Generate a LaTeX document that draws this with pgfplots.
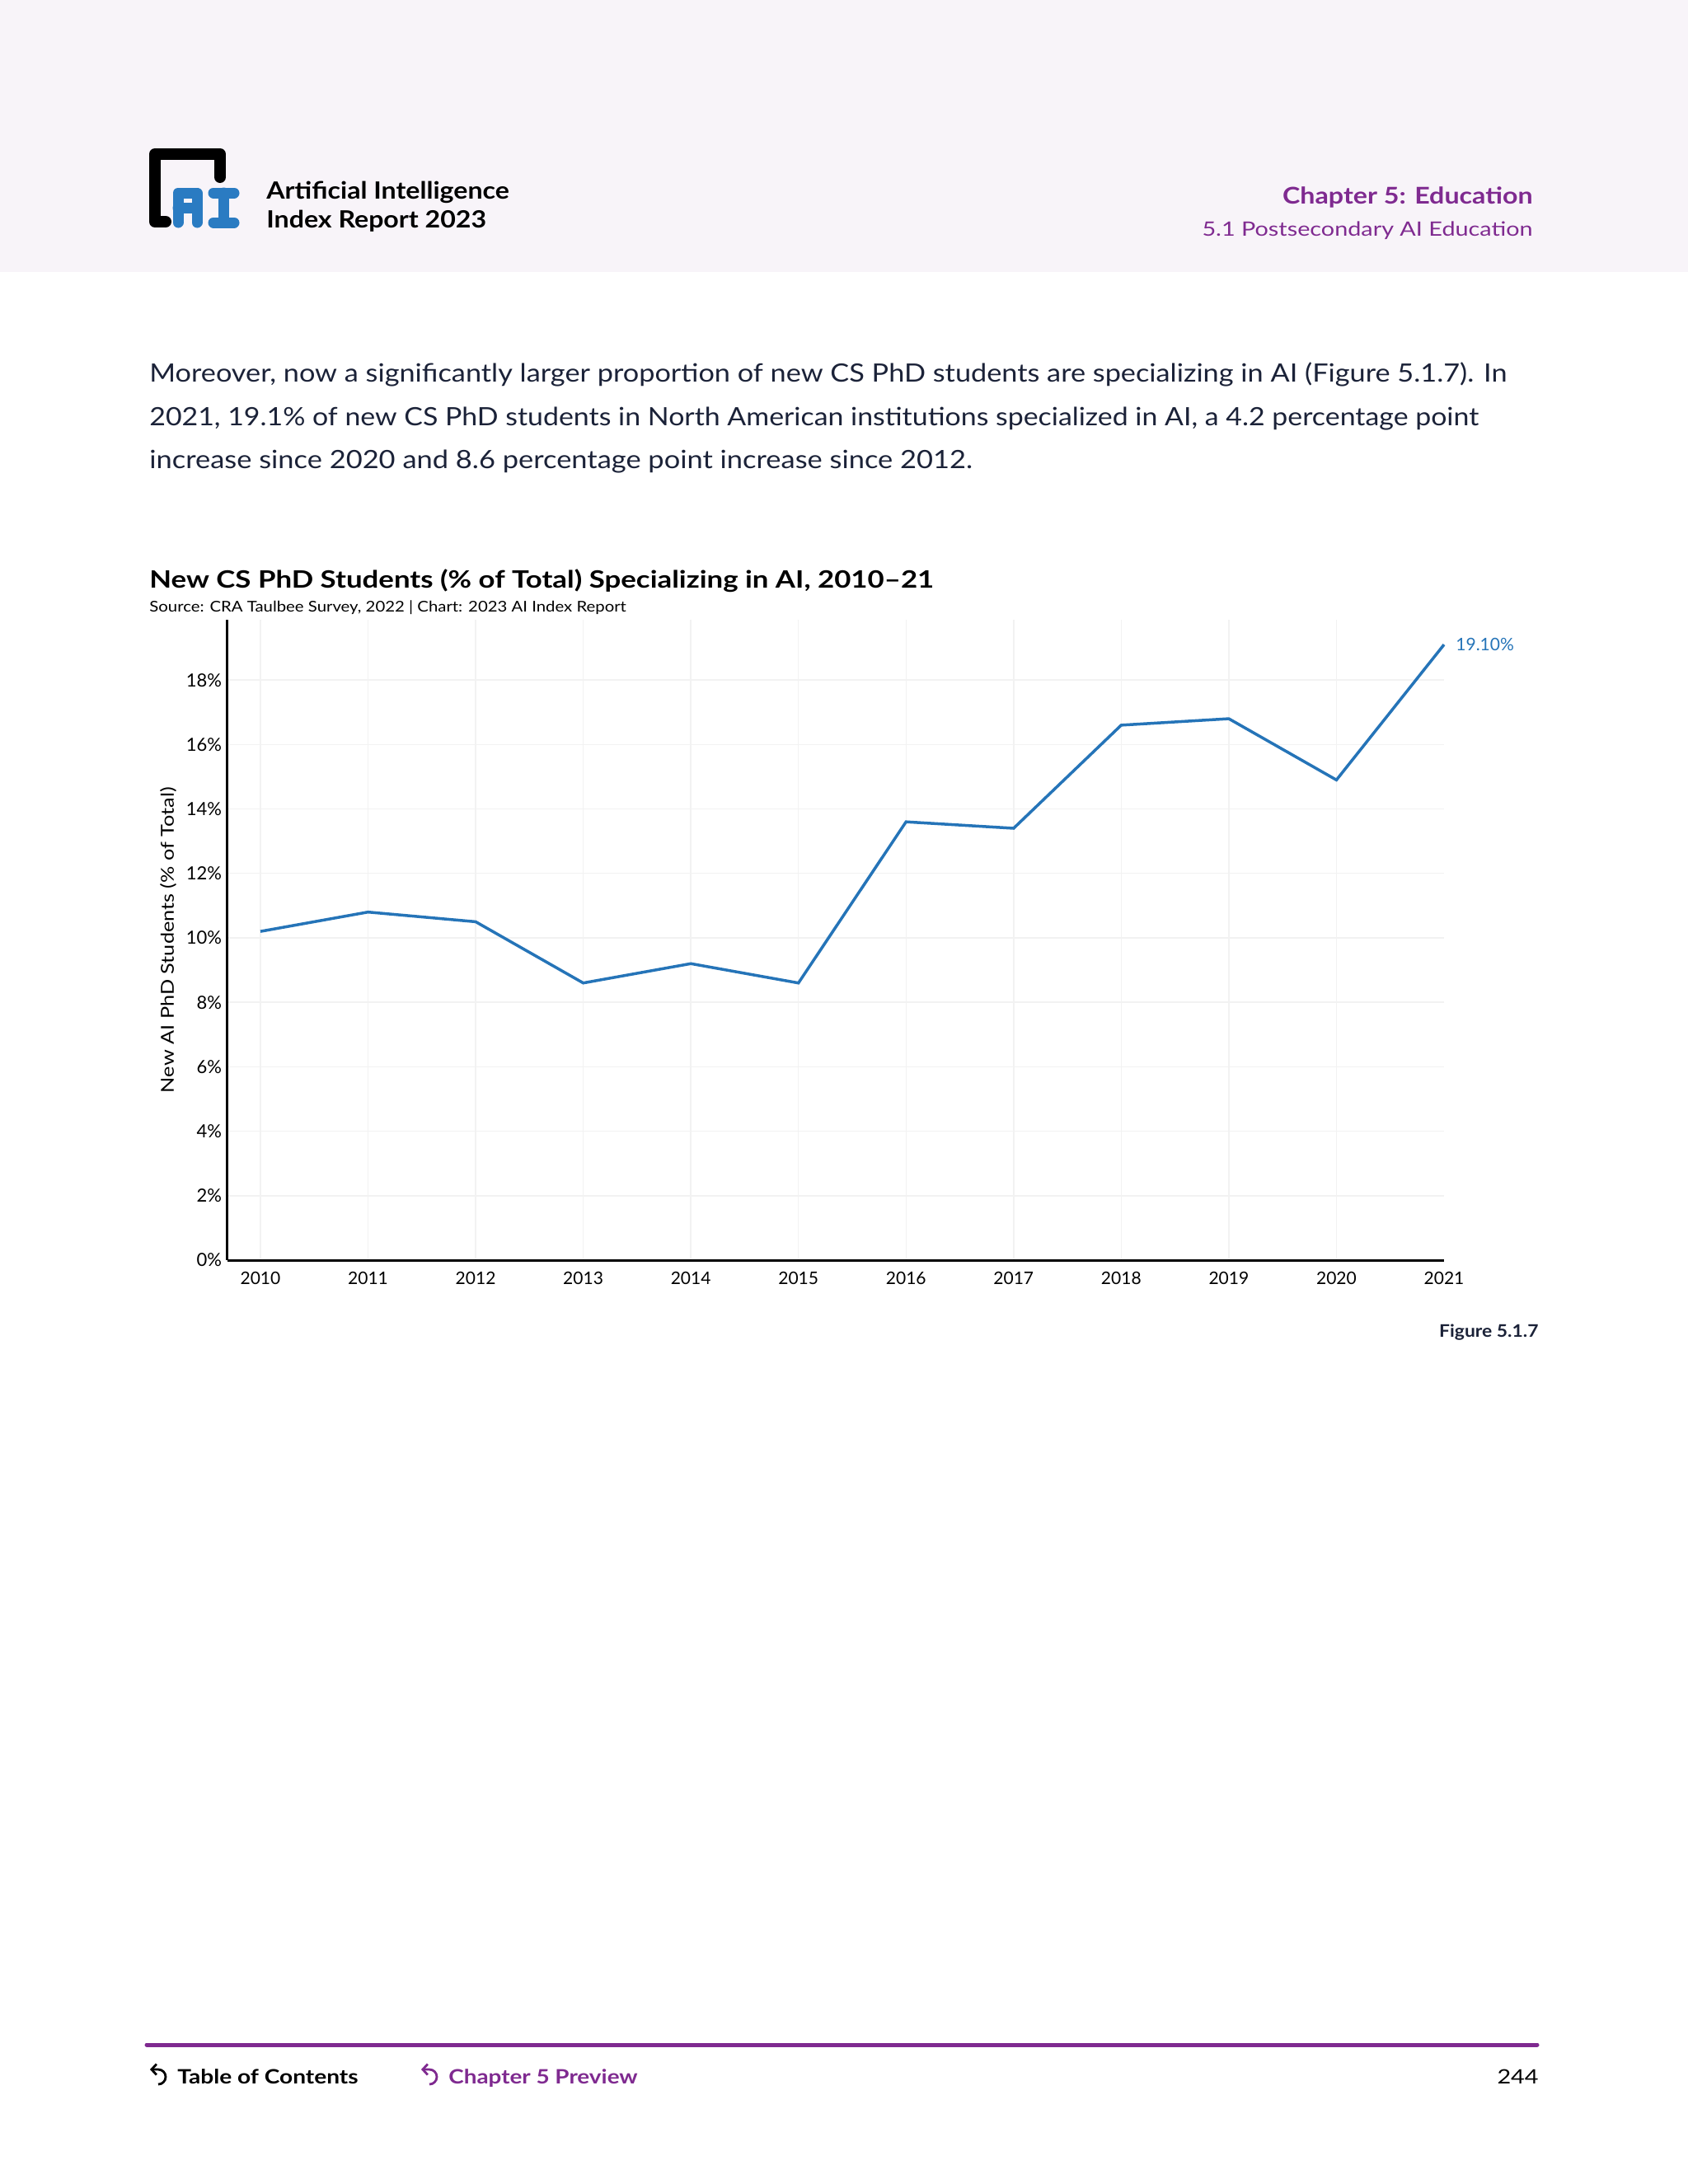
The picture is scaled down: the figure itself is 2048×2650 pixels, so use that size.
\documentclass[border=0pt]{standalone}
\usepackage{pgfplots}
\pgfplotsset{compat=1.18}
\usepackage{fontspec}
\setmainfont{Lato}
\usetikzlibrary{arrows.meta}

\definecolor{hdrbg}{HTML}{F8F4F9}
\definecolor{aipurple}{HTML}{7F2A90}
\definecolor{aiblue}{HTML}{2A7BC2}
\definecolor{navy}{HTML}{1B2238}
\definecolor{lineblue}{HTML}{2574B8}
\definecolor{gridgray}{HTML}{F2F2F2}

\newcommand{\fs}[1]{\fontsize{#1}{#1}\selectfont}
% horizontal stretch, the source font runs wider than Lato
\newcommand{\wide}[2]{\scalebox{#1}[1]{#2}}

\begin{document}
\begin{tikzpicture}
\begin{scope}[x=0.5pt,y=-0.5pt]
  % page and header band
  \fill[white] (0,0) rectangle (2048,2650);
  \fill[hdrbg] (0,0) rectangle (2048,330);

  % logo
  \draw[line width=7pt, black, line join=round, line cap=round]
    (201,269) -- (188,269) -- (188,187) -- (267,187) -- (267,215);
  \draw[line width=6.5pt, aiblue, line join=round, line cap=round]
    (216,270) -- (216,234) -- (239,234) -- (239,270);
  \draw[line width=6.5pt, aiblue, line cap=round] (216,252) -- (239,252);
  \draw[line width=6.5pt, aiblue, line cap=round] (259,234) -- (284,234);
  \draw[line width=6.5pt, aiblue, line cap=round] (259,270) -- (284,270);
  \draw[line width=6.5pt, aiblue, line cap=round] (271.5,234) -- (271.5,270);

  \node[anchor=base west, inner sep=0, font=\bfseries\fs{14.4}] at (323,241) {\wide{1.115}{Artificial Intelligence}};
  \node[anchor=base west, inner sep=0, font=\bfseries\fs{14.4}] at (323,276) {\wide{1.115}{Index Report 2023}};

  \node[anchor=base east, inner sep=0, text=aipurple, font=\bfseries\fs{14}] at (1860,247) {\wide{1.15}{Chapter 5: Education}};
  \node[anchor=base east, inner sep=0, text=aipurple, font=\fs{12}] at (1860,286) {\wide{1.2}{5.1 Postsecondary AI Education}};

  % body text
  \node[anchor=base west, inner sep=0, text=navy, font=\fs{15.3}] at (181,463)
    {\wide{1.12}{Moreover, now a significantly larger proportion of new CS PhD students are specializing in AI (Figure 5.1.7). In}};
  \node[anchor=base west, inner sep=0, text=navy, font=\fs{15.3}] at (181,516)
    {\wide{1.107}{2021, 19.1\% of new CS PhD students in North American institutions specialized in AI, a 4.2 percentage point}};
  \node[anchor=base west, inner sep=0, text=navy, font=\fs{15.3}] at (181,568)
    {\wide{1.125}{increase since 2020 and 8.6 percentage point increase since 2012.}};

  % chart title
  \node[anchor=base west, inner sep=0, font=\bfseries\fs{14.5}] at (181,713)
    {\wide{1.2}{New CS PhD Students (\% of Total) Specializing in AI, 2010--21}};
  \node[anchor=base west, inner sep=0, font=\fs{9}] at (181,742)
    {\wide{1.13}{Source: CRA Taulbee Survey, 2022 | Chart: 2023 AI Index Report}};

  % figure number
  \node[anchor=base east, inner sep=0, text=navy, font=\bfseries\fs{10.5}] at (1867,1622) {\wide{1.09}{Figure 5.1.7}};

  % footer
  \draw[line width=2.5pt, aipurple, line cap=round] (178,2481) -- (1865,2481);
  \draw[line width=1.4pt, black, {Straight Barb[length=3pt,width=6.5pt]}-]
    (182,2511) -- (192,2511) arc[start angle=-90, end angle=90, radius=9];
  \node[anchor=base west, inner sep=0, font=\bfseries\fs{12}] at (215,2528) {\wide{1.17}{Table of Contents}};
  \draw[line width=1.4pt, aipurple, {Straight Barb[length=3pt,width=6.5pt]}-]
    (511,2511) -- (521,2511) arc[start angle=-90, end angle=90, radius=9];
  \node[anchor=base west, inner sep=0, text=aipurple, font=\bfseries\fs{12}] at (544,2528) {\wide{1.16}{Chapter 5 Preview}};
  \node[anchor=base east, inner sep=0, font=\fs{12}] at (1867,2528) {\wide{1.2}{244}};
\end{scope}

\begin{axis}[
    at={(137.75pt,-764.5pt)}, anchor=south west,
    scale only axis,
    width=738.25pt, height=388.5pt,
    xmin=2009.69, xmax=2021,
    ymin=0, ymax=19.87,
    axis lines=left,
    axis line style={-, line width=1.5pt, black},
    major tick length=0pt,
    xtick={2010,2011,...,2020},
    xticklabels={2010,2011,2012,2013,2014,2015,2016,2017,2018,2019,2020},
    extra x ticks={2021},
    extra x tick labels={2021},
    extra x tick style={grid=none},
    ytick={0,2,...,18},
    yticklabels={0\%,2\%,4\%,6\%,8\%,10\%,12\%,14\%,16\%,18\%},
    grid=major,
    grid style={line width=0.7pt, gridgray},
    tick label style={font=\fs{10.5}, inner sep=0pt},
    xticklabel style={anchor=north, yshift=-7pt},
    yticklabel style={anchor=east, xshift=-3pt, font=\fs{11}},
    ylabel={\wide{1.17}{New AI PhD Students (\% of Total)}},
    ylabel style={font=\fs{10.8}, at={(axis description cs:-0.0484,0.5)}, anchor=center},
    clip=false,
  ]
  \addplot[lineblue, line width=1.75pt] coordinates {
    (2010,10.2) (2011,10.8) (2012,10.5) (2013,8.6) (2014,9.2) (2015,8.6)
    (2016,13.6) (2017,13.4) (2018,16.6) (2019,16.8) (2020,14.9) (2021,19.1)
  } node[pos=1, anchor=west, xshift=3pt, text=lineblue, font=\fs{10.5}] {19.10\%};
\end{axis}
\end{tikzpicture}
\end{document}
